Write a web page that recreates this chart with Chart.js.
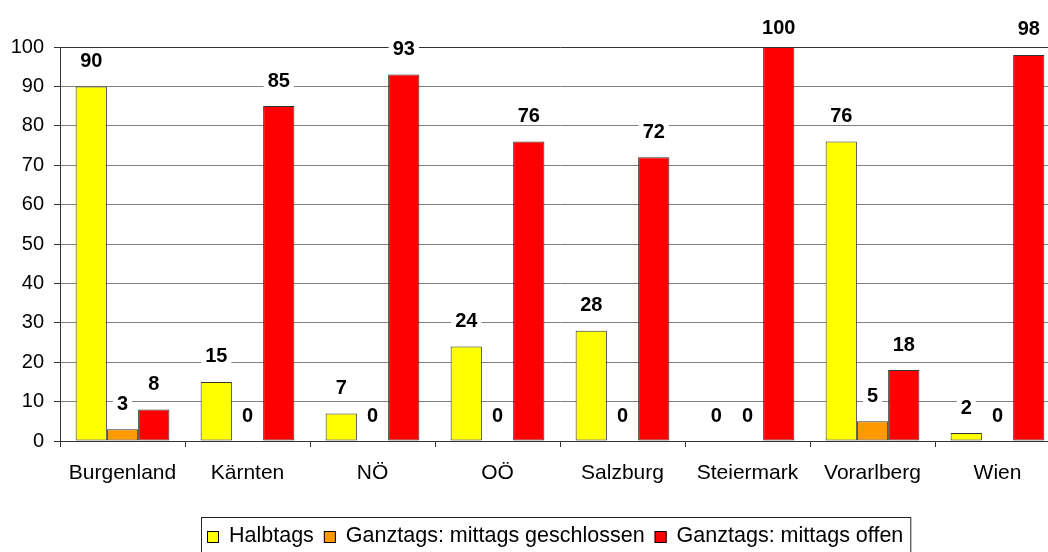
<!DOCTYPE html>
<html>
<head>
<meta charset="utf-8">
<script src="https://cdn.jsdelivr.net/npm/chart.js@4"></script>
<style>
  body { margin: 0; background: #fff; overflow: hidden; }
  .wrap { width: 1062px; height: 552px; }
</style>
</head>
<body>
<div class="wrap"><canvas id="bar-chart"></canvas></div>
<script>
const bundeslaender = ['Burgenland', 'Kärnten', 'NÖ', 'OÖ', 'Salzburg', 'Steiermark', 'Vorarlberg', 'Wien'];
const halbtags = [90, 15, 7, 24, 28, 0, 76, 2];
const mittagsGeschlossen = [3, 0, 0, 0, 0, 0, 5, 0];
const mittagsOffen = [8, 85, 93, 76, 72, 100, 18, 98];
const seriesNames = ['Halbtags', 'Ganztags: mittags geschlossen', 'Ganztags: mittags offen'];
const seriesColors = ['#FFFF00', '#FF9900', '#FF0000'];
const yTicks = [0, 10, 20, 30, 40, 50, 60, 70, 80, 90, 100];

const fontFamily = '"Liberation Sans", Arial, sans-serif';
Chart.defaults.font.family = fontFamily;
Chart.defaults.font.size = 20;
Chart.defaults.color = '#000';

// value labels above each bar, white box behind so gridlines are cut
function drawValueLabels(chart, backgrounds) {
  const ctx = chart.ctx;
  ctx.save();
  ctx.font = 'bold 20px ' + fontFamily;
  ctx.textAlign = 'center';
  ctx.textBaseline = 'middle';
  chart.data.datasets.forEach((ds, i) => {
    chart.getDatasetMeta(i).data.forEach((bar, j) => {
      const text = String(ds.data[j]);
      const y = Math.max(bar.y - 26, 27);
      if (backgrounds) {
        const w = ctx.measureText(text).width + 8;
        ctx.fillStyle = '#fff';
        ctx.fillRect(bar.x - w / 2, y - 9, w, 18);
      } else {
        ctx.fillStyle = '#000';
        ctx.fillText(text, bar.x, y + 1);
      }
    });
  });
  ctx.restore();
}

const valueLabels = {
  id: 'valueLabels',
  beforeDatasetsDraw(chart) { drawValueLabels(chart, true); },
  afterDatasetsDraw(chart) { drawValueLabels(chart, false); }
};

// framed legend along the bottom
const boxLegend = {
  id: 'boxLegend',
  afterDraw(chart) {
    const ctx = chart.ctx;
    ctx.save();
    ctx.font = '21.5px ' + fontFamily;
    ctx.textBaseline = 'middle';
    ctx.lineWidth = 1;
    let x = 207;
    chart.data.datasets.forEach((ds) => {
      ctx.fillStyle = ds.backgroundColor;
      ctx.fillRect(x, 531, 12, 12);
      ctx.strokeStyle = '#000';
      ctx.strokeRect(x + 0.5, 531.5, 11, 11);
      ctx.fillStyle = '#000';
      ctx.fillText(ds.label, x + 22, 536);
      x += 22 + ctx.measureText(ds.label).width + 10;
    });
    ctx.strokeStyle = '#222';
    ctx.strokeRect(201.5, 517.5, x - 10 + 7 - 201, 60);
    ctx.restore();
  }
};

new Chart(document.getElementById('bar-chart'), {
  type: 'bar',
  data: {
    labels: bundeslaender,
    datasets: [halbtags, mittagsGeschlossen, mittagsOffen].map((values, i) => ({
      label: seriesNames[i],
      data: values,
      backgroundColor: seriesColors[i],
      borderColor: '#333',
      borderWidth: 1,
      borderSkipped: false,
      categoryPercentage: 0.75,
      barPercentage: 1.0
    }))
  },
  options: {
    responsive: true,
    maintainAspectRatio: false,
    animation: false,
    layout: { padding: { top: 47, right: 2, left: 0, bottom: 0 } },
    plugins: {
      legend: { display: false },
      tooltip: { enabled: false }
    },
    scales: {
      x: {
        afterFit(scale) { scale.height = 111; },
        grid: {
          offset: true,
          drawOnChartArea: false,
          tickLength: 6,
          tickColor: '#333'
        },
        border: { color: '#333' },
        ticks: { padding: 14, color: '#000', font: { size: 21 } }
      },
      y: {
        min: yTicks[0],
        max: yTicks[yTicks.length - 1],
        afterFit(scale) { scale.width = 60; },
        afterBuildTicks(scale) { scale.ticks = yTicks.map(v => ({ value: v })); },
        grid: {
          color: c => (c.tick && c.tick.value === 100) ? '#333' : '#808080',
          tickLength: 6,
          tickColor: '#333'
        },
        border: { color: '#333' },
        ticks: { padding: 10, color: '#000' }
      }
    }
  },
  plugins: [valueLabels, boxLegend]
});
</script>
</body>
</html>
